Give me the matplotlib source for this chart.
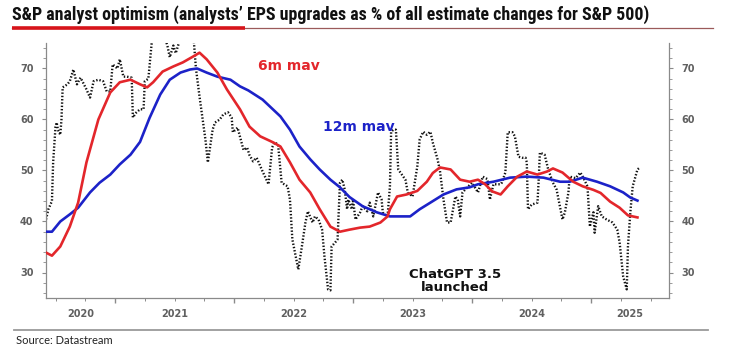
import matplotlib
matplotlib.use("Agg")
import matplotlib.pyplot as plt
from matplotlib.lines import Line2D
from matplotlib import font_manager
import numpy as np

# ---------------- data (decimal years, % upgrades) ----------------
raw_t = [2020.42, 2020.44, 2020.47, 2020.48, 2020.50, 2020.51, 2020.52, 2020.54, 2020.55, 2020.56,
         2020.60, 2020.62, 2020.65, 2020.68, 2020.71, 2020.73, 2020.76, 2020.79, 2020.82, 2020.86,
         2020.90, 2020.93, 2020.96, 2020.98, 2021.02, 2021.04, 2021.07, 2021.10, 2021.14, 2021.15,
         2021.18, 2021.21, 2021.24, 2021.25, 2021.28, 2021.31, 2021.34, 2021.39, 2021.44, 2021.46,
         2021.49, 2021.51, 2021.55, 2021.60, 2021.66, 2021.68, 2021.71, 2021.76, 2021.78, 2021.82,
         2021.84, 2021.88, 2021.91, 2021.95, 2021.98, 2021.99, 2022.03, 2022.08, 2022.11, 2022.13,
         2022.16, 2022.19, 2022.24, 2022.29, 2022.32, 2022.34, 2022.37, 2022.40, 2022.45, 2022.47,
         2022.49, 2022.54, 2022.57, 2022.60, 2022.62, 2022.66, 2022.68, 2022.71, 2022.74, 2022.76,
         2022.79, 2022.81, 2022.82, 2022.85, 2022.87, 2022.89, 2022.91, 2022.93, 2022.95, 2022.96,
         2022.99, 2023.00, 2023.02, 2023.06, 2023.08, 2023.12, 2023.14, 2023.17, 2023.21, 2023.24,
         2023.25, 2023.29, 2023.31, 2023.32, 2023.34, 2023.36, 2023.38, 2023.41, 2023.44, 2023.46,
         2023.50, 2023.54, 2023.56, 2023.59, 2023.62, 2023.65, 2023.67, 2023.71, 2023.73, 2023.76,
         2023.79, 2023.82, 2023.84, 2023.86, 2023.88, 2023.90, 2023.92, 2023.96, 2024.00, 2024.05,
         2024.09, 2024.13, 2024.15, 2024.18, 2024.24, 2024.25, 2024.28, 2024.30, 2024.34, 2024.36,
         2024.39, 2024.42, 2024.45, 2024.46, 2024.47, 2024.50, 2024.55, 2024.56, 2024.57, 2024.61,
         2024.64, 2024.68, 2024.71, 2024.76, 2024.78, 2024.81, 2024.82, 2024.87, 2024.91, 2024.93,
         2024.97, 2024.99, 2025.02, 2025.03, 2025.06, 2025.09, 2025.13, 2025.18, 2025.22, 2025.24,
         2025.27, 2025.30, 2025.31, 2025.33, 2025.35, 2025.39, 2025.41]
raw_v = [40.4, 42.4, 44.0, 51.6, 58.6, 59.4, 58.0, 57.0, 60.0, 66.3,
         66.9, 67.5, 69.8, 66.9, 68.2, 67.3, 65.9, 64.3, 67.5, 67.8,
         67.5, 65.5, 65.5, 70.8, 70.0, 71.8, 68.4, 68.4, 68.2, 60.4,
         61.4, 62.0, 62.0, 67.5, 68.0, 75.5, 79.0, 78.0, 74.5, 72.2,
         74.5, 73.0, 76.0, 78.0, 76.0, 70.0, 64.5, 56.0, 51.6, 58.0,
         59.4, 60.0, 61.0, 61.4, 60.4, 57.5, 58.4, 54.0, 54.5, 53.0,
         51.8, 52.5, 49.8, 47.3, 54.5, 55.5, 55.1, 47.6, 46.9, 44.3,
         36.5, 30.6, 35.1, 39.8, 42.0, 39.8, 41.0, 40.4, 38.4, 33.1,
         26.7, 26.5, 35.1, 35.9, 36.5, 47.6, 48.2, 46.3, 42.4, 44.3,
         42.4, 44.3, 40.4, 41.8, 43.0, 42.0, 43.7, 41.0, 45.7, 44.3,
         41.8, 41.0, 46.9, 57.6, 58.0, 58.0, 50.2, 49.2, 48.2, 45.7,
         44.9, 50.8, 56.1, 57.6, 57.0, 57.6, 55.5, 52.2, 50.0, 44.3,
         39.8, 39.8, 42.4, 44.9, 44.3, 41.0, 45.7, 46.7, 47.6, 45.7,
         48.8, 48.3, 44.3, 47.3, 47.3, 47.6, 49.6, 57.5, 57.5, 56.7,
         52.7, 52.5, 52.5, 51.6, 42.4, 43.3, 43.7, 48.2, 53.5, 53.1,
         50.2, 47.6, 46.3, 40.4, 41.8, 45.7, 48.8, 48.5, 49.6, 48.8,
         46.9, 39.0, 41.8, 37.8, 43.0, 41.0, 40.4, 39.8, 38.4, 35.9,
         29.2, 26.7, 35.1, 41.8, 46.9, 50.2, 50.6]

mav6_t = [2020.42, 2020.47, 2020.54, 2020.62, 2020.69, 2020.76, 2020.86, 2020.96, 2021.04, 2021.13,
          2021.21, 2021.27, 2021.32, 2021.40, 2021.49, 2021.57, 2021.66, 2021.71, 2021.77, 2021.86,
          2021.94, 2022.05, 2022.13, 2022.22, 2022.33, 2022.39, 2022.47, 2022.55, 2022.64, 2022.72,
          2022.81, 2022.89, 2022.97, 2023.06, 2023.14, 2023.23, 2023.29, 2023.31, 2023.37, 2023.45,
          2023.54, 2023.62, 2023.67, 2023.73, 2023.82, 2023.90, 2023.98, 2024.05, 2024.11, 2024.17,
          2024.24, 2024.30, 2024.38, 2024.46, 2024.55, 2024.63, 2024.68, 2024.76, 2024.85, 2024.93,
          2025.02, 2025.08, 2025.16, 2025.24, 2025.31, 2025.35, 2025.39]
mav6_v = [33.9, 33.3, 35.1, 39.0, 43.7, 51.6, 60.0, 65.3, 67.3, 67.8,
          66.9, 66.3, 67.3, 69.4, 70.4, 71.2, 72.4, 73.1, 71.8, 69.2,
          65.9, 62.0, 58.6, 56.7, 55.5, 54.7, 51.6, 48.2, 45.7, 42.4,
          39.0, 38.0, 38.4, 38.8, 39.0, 39.8, 41.0, 42.4, 44.9, 45.3,
          46.0, 47.8, 49.5, 50.6, 50.2, 48.2, 47.8, 48.2, 47.3, 45.9,
          45.3, 46.9, 48.8, 49.8, 49.2, 49.8, 50.4, 49.6, 47.8, 46.9,
          46.2, 45.6, 43.9, 42.7, 41.2, 41.0, 40.8]

mav12_t = [2020.42, 2020.47, 2020.54, 2020.62, 2020.69, 2020.79, 2020.87, 2020.96, 2021.04, 2021.13,
           2021.21, 2021.29, 2021.38, 2021.46, 2021.55, 2021.63, 2021.69, 2021.77, 2021.86, 2021.97,
           2022.05, 2022.12, 2022.24, 2022.39, 2022.47, 2022.55, 2022.64, 2022.72, 2022.81, 2022.89,
           2022.97, 2023.08, 2023.20, 2023.31, 2023.48, 2023.56, 2023.65, 2023.76, 2023.87, 2023.98,
           2024.05, 2024.18, 2024.32, 2024.46, 2024.60, 2024.74, 2024.82, 2024.93, 2025.05, 2025.16,
           2025.27, 2025.33, 2025.37, 2025.39]
mav12_v = [38.0, 38.0, 40.0, 41.4, 42.7, 45.7, 47.6, 49.2, 51.2, 53.1,
           55.6, 60.3, 64.9, 67.8, 69.2, 69.8, 70.0, 69.2, 68.4, 67.8,
           66.5, 65.7, 63.9, 60.6, 58.0, 54.7, 52.2, 50.2, 48.2, 46.7,
           44.8, 43.0, 41.8, 41.0, 41.0, 42.4, 43.7, 45.3, 46.3, 46.7,
           47.3, 47.8, 48.6, 48.8, 48.6, 47.8, 47.8, 48.6, 47.8, 46.9,
           45.7, 44.7, 44.3, 44.1]

year_labels = ["2020", "2021", "2022", "2023", "2024", "2025"]
y_ticks = [30, 40, 50, 60, 70]

title = "S&P analyst optimism (analysts\u2019 EPS upgrades as % of all estimate changes for S&P 500)"
source = "Source: Datastream"

# ---------------- style ----------------
RED = "#e3262b"
BLUE = "#1c22c8"
GREY = "#8a8a8a"
TICKC = "#606060"

def pick(cands):
    for c in cands:
        try:
            font_manager.findfont(font_manager.FontProperties(family=c), fallback_to_default=False)
            return c
        except Exception:
            pass
    return "DejaVu Sans"

title_font = pick(["Liberation Sans Narrow", "Roboto Condensed", "Open Sans", "Lato"])
body_font = pick(["Lato", "Open Sans", "Noto Sans"])

W, H = 730, 358
fig = plt.figure(figsize=(W / 100, H / 100), dpi=100)
fig.patch.set_facecolor("white")

x0, x1 = 2020.42, 2025.655
left, right, top, bottom = 46, 669, 43, 298
ax = fig.add_axes([left / W, 1 - bottom / H, (right - left) / W, (bottom - top) / H])
ax.set_xlim(x0, x1)
ax.set_ylim(25, 75)

ax.plot(raw_t, raw_v, color="#111111", lw=1.7, linestyle=(0, (0.6, 0.8)), zorder=2,
        dash_capstyle="butt")
ax.plot(mav12_t, mav12_v, color=BLUE, lw=1.9, zorder=3, solid_joinstyle="round")
ax.plot(mav6_t, mav6_v, color=RED, lw=1.9, zorder=4, solid_joinstyle="round")

# spines
ax.spines["top"].set_visible(False)
for s in ["left", "right", "bottom"]:
    ax.spines[s].set_color(GREY)
    ax.spines[s].set_linewidth(0.9)

# y ticks both sides
ax.set_yticks(y_ticks)
ax.set_yticks(np.arange(26, 75, 2), minor=True)
ax.tick_params(axis="y", which="both", left=True, right=True, labelleft=True, labelright=True,
               direction="out", colors=GREY, labelcolor=TICKC)
ax.tick_params(axis="y", which="major", length=3, width=0.8, pad=6)
ax.tick_params(axis="y", which="minor", length=2, width=0.6)
for lab in ax.get_yticklabels():
    lab.set_fontfamily("DejaVu Sans")
    lab.set_fontweight("bold")
    lab.set_fontsize(7)

# x ticks: years major, quarters minor, labels centred in each year
years = [int(y) for y in year_labels]
ax.set_xticks([y for y in years if x0 <= y <= x1])
ax.set_xticks([y + q / 4 for y in years for q in range(4) if x0 <= y + q / 4 <= x1], minor=True)
ax.tick_params(axis="x", which="both", direction="out", colors=GREY, labelbottom=False)
ax.tick_params(axis="x", which="major", length=3.5, width=1.0)
ax.tick_params(axis="x", which="minor", length=2, width=0.7)
for lab in year_labels:
    y = int(lab)
    a, b = max(y, x0), min(y + 1, x1)
    ax.text((a + b) / 2, -0.045, lab, transform=ax.get_xaxis_transform(), ha="center", va="top",
            fontsize=7, fontweight="bold", color=TICKC, family="DejaVu Sans")

# annotations
ax.text(2022.20, 70.4, "6m mav", color=RED, fontsize=10, fontweight="bold", va="center",
        family="DejaVu Sans")
ax.text(2022.75, 58.6, "12m mav", color=BLUE, fontsize=10, fontweight="bold", va="center",
        family="DejaVu Sans")
ax.text(2023.86, 28.3, "ChatGPT 3.5\nlaunched", color="#111111", fontsize=9.5, fontweight="bold",
        ha="center", va="center", linespacing=1.0, family="DejaVu Sans")

# title, rules, source
tt = fig.text(12 / W, 1 - 15 / H, title, fontsize=10.5, fontweight="bold", family=title_font,
              va="center", ha="left", color="#111111")
fig.canvas.draw()
bb = tt.get_window_extent()
target = 650 - 13
tt.set_fontsize(10.5 * target / bb.width)

fig.add_artist(Line2D([12 / W, 713 / W], [1 - 28 / H, 1 - 28 / H], color="#9b5a5a", lw=0.9))
fig.add_artist(Line2D([12 / W, 245 / W], [1 - 28 / H, 1 - 28 / H], color="#d7141a", lw=2.6,
                      solid_capstyle="butt"))
fig.add_artist(Line2D([14 / W, 708 / W], [1 - 330 / H, 1 - 330 / H], color="#9a9a9a", lw=1.3))
fig.text(16 / W, 1 - 341 / H, source, fontsize=8, family=body_font, va="center", ha="left",
         color="#222222")

fig.savefig("out.png", dpi=100, facecolor="white")
